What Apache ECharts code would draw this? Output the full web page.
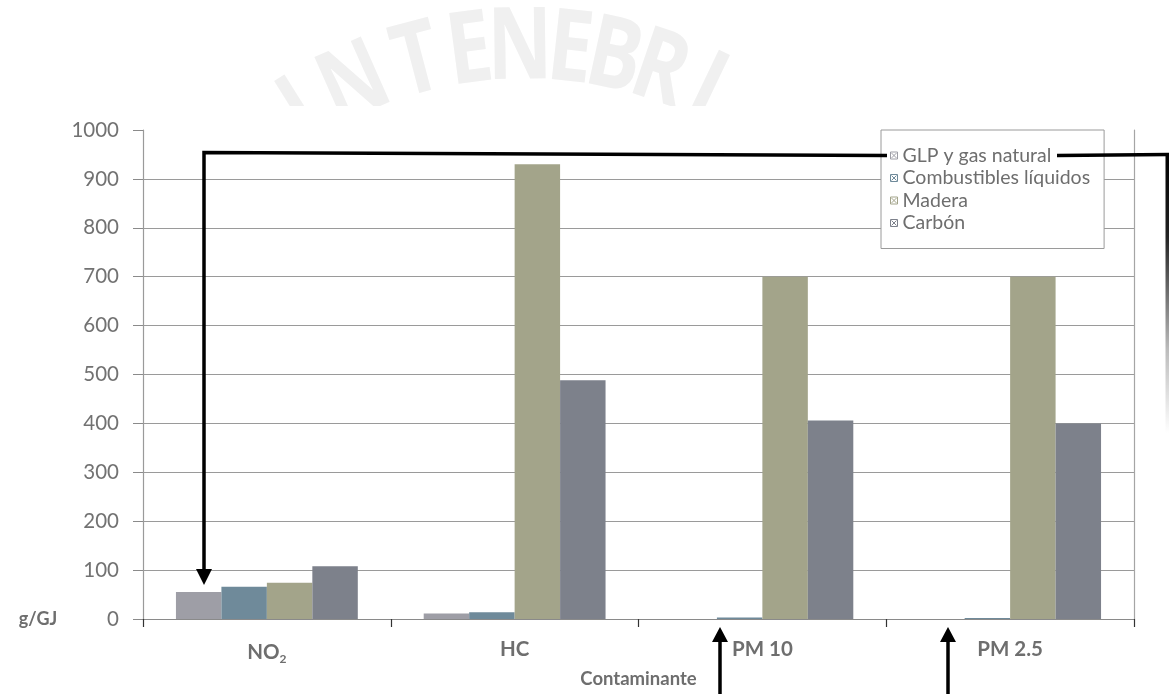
<!DOCTYPE html>
<html>
<head>
<meta charset="utf-8">
<script src="https://cdn.jsdelivr.net/npm/echarts@6/dist/echarts.min.js"></script>
<style>
  html, body { margin: 0; padding: 0; background: #fff; }
  #chart { width: 1171px; height: 694px; }
</style>
</head>
<body>
<div id="chart"></div>
<script>
// Emission factors by pollutant and fuel (g/GJ)
const categories = ['NO2', 'HC', 'PM 10', 'PM 2.5'];
const fuelNames = ['GLP y gas natural', 'Combustibles líquidos', 'Madera', 'Carbón'];
const glpGas = [55, 11, 0, 0];
const liquidos = [66, 14, 3, 2];
const madera = [74, 930, 700, 700];
const carbon = [108, 488, 406, 400];
const fuelValues = [glpGas, liquidos, madera, carbon];
const fuelColors = ['#9e9ea6', '#6f8a9a', '#a3a48a', '#7d818b'];
const yMin = 0, yMax = 1000, yStep = 100;

const textGrey = '#6e6e6e';
const chart = echarts.init(document.getElementById('chart'));

// Faint arched motto behind the chart
const motto = [['I', 302], ['N', 355], ['T', 418], ['E', 470], ['N', 520],
               ['E', 570], ['B', 614], ['R', 660], ['I', 706]];
const arcCx = 525, arcCy = 470, arcR = 420;
const mottoGraphics = motto.map(([ch, px]) => {
  const t = Math.asin((px - arcCx) / arcR);
  return {
    type: 'text', z: -20,
    x: arcCx + arcR * Math.sin(t), y: arcCy - arcR * Math.cos(t),
    rotation: -t, scaleX: 0.8,
    style: { text: ch, font: '700 100px "Open Sans"', fill: '#f0f0f0',
             align: 'center', verticalAlign: 'middle' }
  };
});

const black = '#000';
const arrowGraphics = [
  // legend entry -> first bar
  { type: 'polyline', z: 50, shape: { points: [[887, 155.5], [204, 152.5], [204, 571]] },
    style: { stroke: black, lineWidth: 3.5, fill: null, lineJoin: 'miter' } },
  { type: 'polygon', z: 50, shape: { points: [[196, 569], [212, 569], [204, 585]] },
    style: { fill: black } },
  // legend entry -> right margin, fading downwards
  { type: 'polyline', z: 50, shape: { points: [[1057, 155.5], [1169, 154.5]] },
    style: { stroke: black, lineWidth: 3.5, fill: null } },
  { type: 'rect', z: 50, shape: { x: 1165.5, y: 153, width: 3.5, height: 280 },
    style: { fill: { type: 'linear', x: 0, y: 0, x2: 0, y2: 1,
        colorStops: [{ offset: 0, color: '#000' }, { offset: 0.3, color: '#222' },
                     { offset: 0.7, color: '#bbb' }, { offset: 1, color: '#fff' }] } } },
  // bottom arrows
  { type: 'line', z: 50, shape: { x1: 720, y1: 694, x2: 720, y2: 640 },
    style: { stroke: black, lineWidth: 3.5 } },
  { type: 'polygon', z: 50, shape: { points: [[712, 642], [728, 642], [720, 627]] },
    style: { fill: black } },
  { type: 'line', z: 50, shape: { x1: 948, y1: 694, x2: 948, y2: 640 },
    style: { stroke: black, lineWidth: 3.5 } },
  { type: 'polygon', z: 50, shape: { points: [[940, 642], [956, 642], [948, 627]] },
    style: { fill: black } }
];

const boxIcon = 'path://M0,0L10,0L10,10L0,10Z M1.5,1.5L8.5,8.5 M8.5,1.5L1.5,8.5';

const option = {
  backgroundColor: '#fff',
  animation: false,
  textStyle: { fontFamily: 'Lato' },
  grid: { left: 143, right: 37, top: 130, bottom: 75, containLabel: false },
  legend: {
    orient: 'vertical', left: 881, top: 130,
    padding: [15.5, 14, 15.5, 9], itemGap: 2.5,
    itemWidth: 7, itemHeight: 7,
    borderColor: '#9a9a9a', borderWidth: 1, backgroundColor: '#fff',
    textStyle: { color: textGrey, fontSize: 19.5, fontFamily: 'Lato', lineHeight: 18 },
    data: fuelNames.map((n, i) => ({
      name: n, icon: boxIcon,
      itemStyle: { color: '#fff', borderColor: fuelColors[i], borderWidth: 1 }
    })),
    selectedMode: false, z: 10
  },
  xAxis: {
    type: 'category', data: categories,
    name: 'Contaminante', nameLocation: 'middle', nameGap: 49,
    nameTextStyle: { color: textGrey, fontSize: 18.5, fontWeight: 'bold', fontFamily: 'Lato' },
    axisLine: { lineStyle: { color: '#8a8a8a', width: 1 } },
    axisTick: { show: true, length: 8, lineStyle: { color: '#333', width: 1.2 } },
    axisLabel: {
      margin: 20, color: textGrey, fontSize: 20.5, fontWeight: 'bold',
      formatter: v => v === 'NO2' ? 'NO{sub|2}' : v,
      rich: { sub: { fontSize: 12, fontWeight: 'bold', color: textGrey, padding: [14, 0, 0, 0] } }
    }
  },
  yAxis: [{
    type: 'value', min: yMin, max: yMax, interval: yStep,
    axisLine: { show: true, lineStyle: { color: '#9a9a9a', width: 1.2 } },
    axisTick: { show: true, length: 10, lineStyle: { color: '#8a8a8a' } },
    axisLabel: { margin: 24, color: '#727272', fontSize: 20.5, fontFamily: 'Lato',
                 formatter: v => String(v) },
    splitLine: { show: true, showMinLine: false, showMaxLine: false,
                 lineStyle: { color: '#9a9a9a', width: 1.2 } }
  }, {
    type: 'value', min: yMin, max: yMax, interval: yStep, position: 'right',
    axisLine: { show: true, lineStyle: { color: '#a5a5a5', width: 1.2 } },
    axisTick: { show: false }, axisLabel: { show: false }, splitLine: { show: false }
  }],
  series: fuelNames.map((n, i) => ({
    name: n, type: 'bar', data: fuelValues[i],
    barGap: '0%', barCategoryGap: '26.6%',
    itemStyle: { color: fuelColors[i] }, z: 3
  })),
  graphic: [
    ...mottoGraphics,
    { type: 'rect', z: -10, shape: { x: 0, y: 106, width: 1171, height: 588 },
      style: { fill: '#fff' } },
    { type: 'text', z: 5, x: 38, y: 619,
      style: { text: 'g/GJ', font: 'bold 18px Lato', fill: textGrey,
               align: 'center', verticalAlign: 'middle' } },
    ...arrowGraphics
  ]
};
chart.setOption(option);
</script>
</body>
</html>
